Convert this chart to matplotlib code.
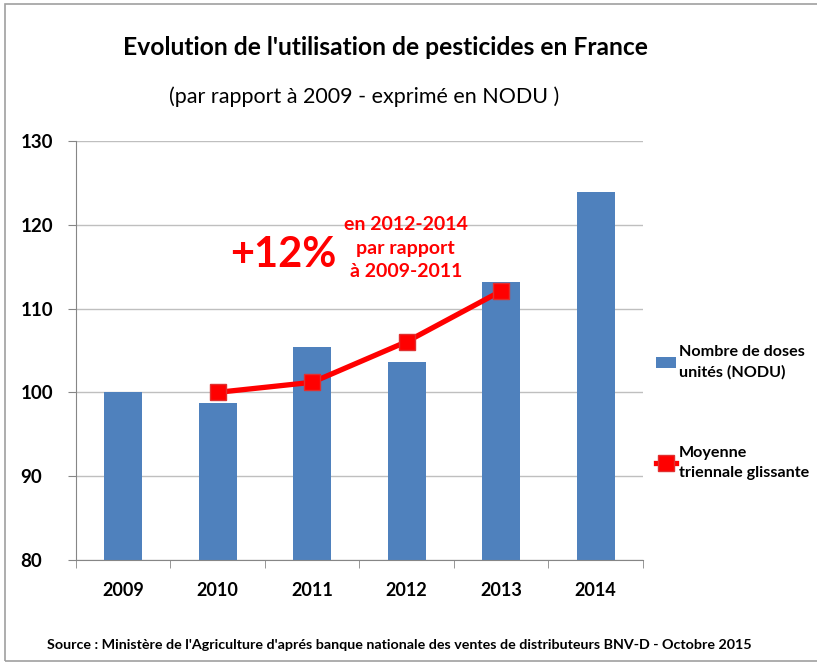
import matplotlib.pyplot as plt
import matplotlib.patches as mpatches
import numpy as np

plt.rcParams['font.family'] = ['Lato', 'DejaVu Sans']

# données
annees = ['2009', '2010', '2011', '2012', '2013', '2014']
nodu = [100.0, 98.7, 105.4, 103.6, 113.2, 123.9]
moyenne_annees = ['2010', '2011', '2012', '2013']
moyenne = [100.0, 101.2, 106.05, 112.1]

bleu = '#4F81BD'
rouge = '#FF0000'

fig = plt.figure(figsize=(8.17, 6.65), dpi=100)
ax = fig.add_axes([0.093, 0.158, 0.694, 0.630])

x = np.arange(len(annees))
barres = ax.bar(x, nodu, width=0.4, color=bleu, zorder=2, label='Nombre de doses\nunités (NODU)')
xm = [annees.index(a) for a in moyenne_annees]
ligne, = ax.plot(xm, moyenne, color=rouge, lw=3.8, marker='s', ms=11, mfc=rouge, mec='#E03030',
                 zorder=3, label='Moyenne\ntriennale glissante')

ax.set_ylim(80, 130)
ax.set_xlim(-0.5, len(annees) - 0.5)
ax.set_yticks(range(80, 131, 10))
ax.set_xticks(x)
ax.set_xticklabels(annees, fontsize=13, fontweight='bold')
for t in ax.get_yticklabels():
    t.set_fontsize(13.5)
    t.set_fontweight('bold')
    t.set_horizontalalignment('left')
ax.set_xticks(np.arange(-0.5, len(annees), 1), minor=True)
ax.tick_params(axis='x', which='major', length=0, pad=16)
ax.tick_params(axis='x', which='minor', length=6, color='#868686')
ax.tick_params(axis='y', length=6, color='#868686', pad=34)

# grille horizontale
ax.grid(True, axis='y', color='#BFBFBF', lw=1, zorder=0)
for s in ['top', 'right']:
    ax.spines[s].set_visible(False)
ax.spines['left'].set_color('#868686')
ax.spines['bottom'].set_color('#868686')

# annotations en rouge
ax.text(1.69, 116.4, '+12%', color=rouge, fontsize=30, fontweight='bold', ha='center', va='center')
ax.text(2.99, 117.2, 'en 2012-2014\npar rapport\nà 2009-2011', color=rouge, fontsize=14,
        fontweight='bold', ha='center', va='center', linespacing=1.45)

# titres
fig.text(0.472, 0.929, "Evolution de l'utilisation de pesticides en France", fontsize=17.7,
         fontweight='bold', ha='center', va='center')
fig.text(0.446, 0.854, "(par rapport à 2009 - exprimé en NODU )", fontsize=15.5,
         ha='center', va='center')
fig.text(0.058, 0.030, "Source : Ministère de l'Agriculture d'aprés banque nationale des ventes "
         "de distributeurs BNV-D - Octobre 2015", fontsize=10.3, fontweight='bold',
         ha='left', va='center')

# légende
leg = ax.legend(handles=[barres, ligne], loc='center left', bbox_to_anchor=(0.998, 0.352),
                frameon=False, prop={'weight': 'bold', 'size': 11.6}, labelspacing=4.1,
                handlelength=1.25, handletextpad=0.15)
for t in leg.get_texts():
    t.set_linespacing(1.55)

# cadre
fig.patches.append(mpatches.Rectangle((0.006, 0.006), 1.2, 0.988, transform=fig.transFigure,
                                      fill=False, edgecolor='#A0A0A0', lw=1.2))

fig.savefig('out.png', dpi=100)
